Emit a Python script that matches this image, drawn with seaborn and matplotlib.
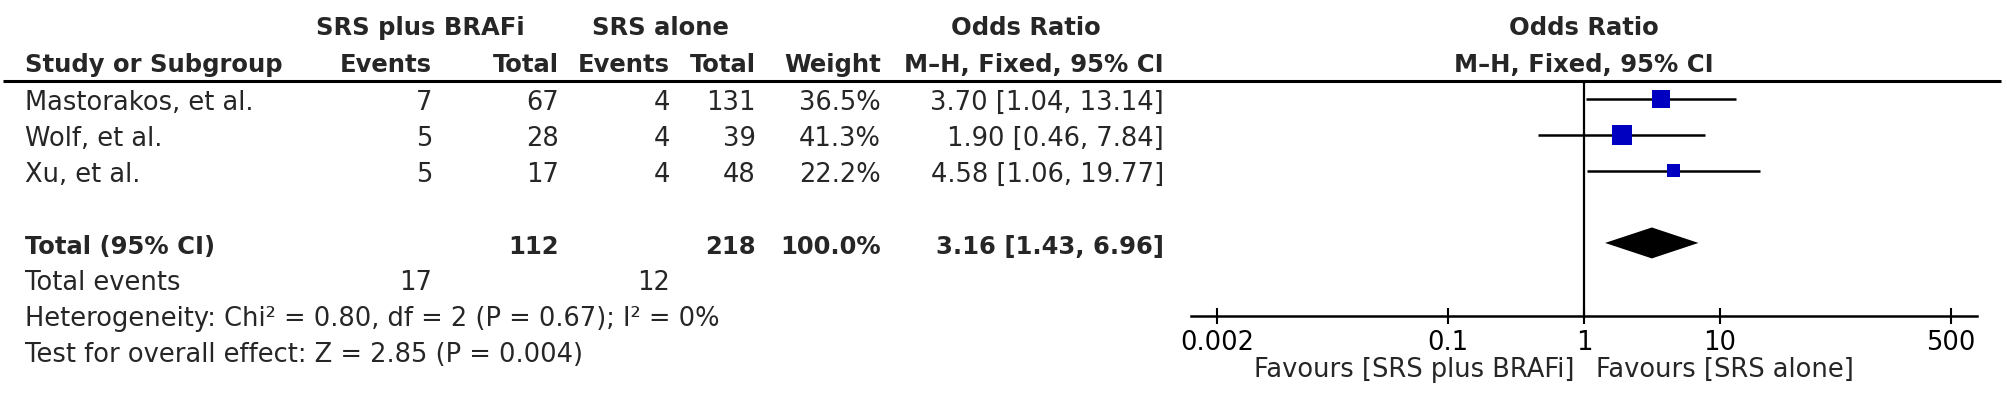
import numpy as np
import pandas as pd
import seaborn as sns
import matplotlib.pyplot as plt
from matplotlib import transforms

# study level data
studies = ["Mastorakos, et al.", "Wolf, et al.", "Xu, et al."]
braf_events = [7, 5, 5]
braf_total = [67, 28, 17]
alone_events = [4, 4, 4]
alone_total = [131, 39, 48]
weights = [36.5, 41.3, 22.2]
odds = [3.70, 1.90, 4.58]
ci_low = [1.04, 0.46, 1.06]
ci_high = [13.14, 7.84, 19.77]

# pooled result
total_or, total_low, total_high = 3.16, 1.43, 6.96
total_braf, total_alone = 112, 218
events_braf, events_alone = 17, 12
heterogeneity = "Heterogeneity: Chi\u00b2 = 0.80, df = 2 (P = 0.67); I\u00b2 = 0%"
overall = "Test for overall effect: Z = 2.85 (P = 0.004)"

xticks = [0.002, 0.1, 1, 10, 500]
xticklabels = ["0.002", "0.1", "1", "10", "500"]

sns.set_theme(style="white")
plt.rcParams["font.family"] = ["DejaVu Sans"]

W, H = 2007, 398
fig = plt.figure(figsize=(W / 100, H / 100), dpi=100)

# full-figure pixel axes for the table text and the rule
bg = fig.add_axes([0, 0, 1, 1])
bg.set_xlim(0, W)
bg.set_ylim(H, 0)
bg.axis("off")

# forest plot axes
ax = fig.add_axes([1191 / W, 1 - 316 / H, (1977 - 1191) / W, (316 - 81) / H])
ax.set_xscale("log")

df = pd.DataFrame({
    "study": studies,
    "or": odds,
    "lo": ci_low,
    "hi": ci_high,
    "weight": weights,
    "row": np.arange(len(studies)),
})
total_row = len(studies) + 1

ax.hlines(df["row"], df["lo"], df["hi"], color="black", lw=1.8, zorder=2)
sns.scatterplot(data=df, x="or", y="row", size="weight", sizes=(88, 197),
                marker="s", color="#0000C0", linewidth=0, legend=False,
                ax=ax, zorder=3)

dh = 0.43
ax.fill([total_low, total_or, total_high, total_or],
        [total_row, total_row - dh, total_row, total_row + dh],
        color="black", lw=0, zorder=3)
ax.axvline(1, color="black", lw=1.6, zorder=1)

ax.set_xlim(10 ** -2.894, 10 ** 2.894)
ax.set_ylim(6.03, -0.5)
ax.set_yticks([])
ax.set_xticks(xticks)
ax.set_xticklabels(xticklabels)
ax.minorticks_off()
ax.set_xlabel("")
ax.set_ylabel("")
for s in ["top", "left", "right"]:
    ax.spines[s].set_visible(False)
ax.spines["bottom"].set_linewidth(1.8)
ax.spines["bottom"].set_color("black")
ax.patch.set_alpha(0)
ax.tick_params(axis="x", direction="inout", length=11.5, width=1.5,
               labelsize=18.5, pad=4, colors="black", bottom=True)

fs, fsb = 18.5, 17.5
LEFT, EV1, TOT1, EV2, TOT2, WT, ORR = 25, 432, 559, 670, 756, 881, 1164
off = 0.31  # baseline sits a little below the row centre
tr = transforms.blended_transform_factory(bg.transData, ax.transData)

# header
bg.plot([3, 2001], [81, 81], color="black", lw=2.2, solid_capstyle="butt")
hdr = dict(fontsize=fsb, fontweight="bold", va="baseline")
bg.text(420, 35, "SRS plus BRAFi", ha="center", **hdr)
bg.text(660, 35, "SRS alone", ha="center", **hdr)
bg.text(1026, 35, "Odds Ratio", ha="center", **hdr)
bg.text(1584, 35, "Odds Ratio", ha="center", **hdr)
bg.text(LEFT, 72, "Study or Subgroup", ha="left", **hdr)
bg.text(EV1, 72, "Events", ha="right", **hdr)
bg.text(TOT1, 72, "Total", ha="right", **hdr)
bg.text(EV2, 72, "Events", ha="right", **hdr)
bg.text(TOT2, 72, "Total", ha="right", **hdr)
bg.text(WT, 72, "Weight", ha="right", **hdr)
bg.text(ORR, 72, "M\u2013H, Fixed, 95% CI", ha="right", **hdr)
bg.text(1584, 72, "M\u2013H, Fixed, 95% CI", ha="center", **hdr)

# study rows
body = dict(fontsize=fs, va="baseline", transform=tr)
for _, r in df.iterrows():
    i = r["row"]
    y = i + off
    bg.text(LEFT, y, r["study"], ha="left", **body)
    bg.text(EV1, y, f"{braf_events[i]}", ha="right", **body)
    bg.text(TOT1, y, f"{braf_total[i]}", ha="right", **body)
    bg.text(EV2, y, f"{alone_events[i]}", ha="right", **body)
    bg.text(TOT2, y, f"{alone_total[i]}", ha="right", **body)
    bg.text(WT, y, f"{r['weight']:.1f}%", ha="right", **body)
    bg.text(ORR, y, f"{r['or']:.2f} [{r['lo']:.2f}, {r['hi']:.2f}]", ha="right", **body)

# totals
bold = dict(body, fontsize=fsb, fontweight="bold")
y = total_row + off
bg.text(LEFT, y, "Total (95% CI)", ha="left", **bold)
bg.text(TOT1, y, f"{total_braf}", ha="right", **bold)
bg.text(TOT2, y, f"{total_alone}", ha="right", **bold)
bg.text(WT, y, f"{sum(weights):.1f}%", ha="right", **bold)
bg.text(ORR, y, f"{total_or:.2f} [{total_low:.2f}, {total_high:.2f}]", ha="right", **bold)

bg.text(LEFT, total_row + 1 + off, "Total events", ha="left", **body)
bg.text(EV1, total_row + 1 + off, f"{events_braf}", ha="right", **body)
bg.text(EV2, total_row + 1 + off, f"{events_alone}", ha="right", **body)
bg.text(LEFT, total_row + 2 + off, heterogeneity, ha="left", **body)
bg.text(LEFT, total_row + 3 + off, overall, ha="left", **body)

# favours labels under the axis
bg.text(1575, 377, "Favours [SRS plus BRAFi]", ha="right", va="baseline", fontsize=fs)
bg.text(1596, 377, "Favours [SRS alone]", ha="left", va="baseline", fontsize=fs)

fig.savefig("out.png", dpi=100)
